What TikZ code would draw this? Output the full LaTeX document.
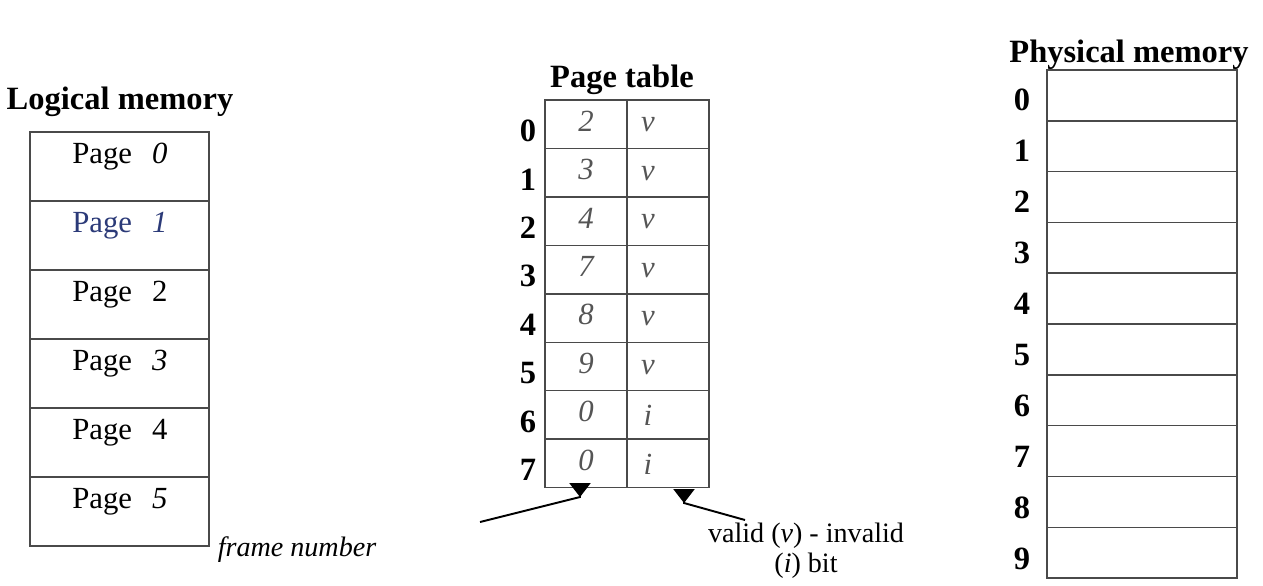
\documentclass[tikz,border=0pt]{standalone}
\usepackage{fontspec}
\setmainfont{Liberation Serif}
\usetikzlibrary{arrows.meta}
\definecolor{grid-gray}{HTML}{4A4A4A}
\definecolor{page-blue}{HTML}{2B3A78}
\definecolor{entry-gray}{HTML}{555555}
\tikzset{
    mem-title/.style = {font=\fontsize{18.5}{20}\selectfont\bfseries, inner sep=0pt},
    index-text/.style = {font=\fontsize{18.5}{20}\selectfont\bfseries, inner sep=0pt},
    lm-cell/.style = {draw=grid-gray, line width=0.8pt, rectangle, minimum width=3.58cm, minimum height=1.38cm, inner sep=0pt},
    pt-cell/.style = {draw=grid-gray, line width=0.8pt, rectangle, minimum width=1.64cm, minimum height=0.97cm, inner sep=0pt},
    pm-cell/.style = {draw=grid-gray, line width=0.8pt, rectangle, minimum width=3.8cm, minimum height=1.016cm, inner sep=0pt},
    cell-text/.style = {font=\fontsize{17.5}{20}\selectfont, inner sep=0pt, anchor=west},
    entry-text/.style = {font=\fontsize{17.5}{20}\selectfont\itshape, text=entry-gray, inner sep=0pt},
    note-text/.style = {font=\fontsize{16}{17}\selectfont, align=center, inner sep=0pt},
    pointer/.style = {line width=1.1pt, -{Triangle[reversed, length=8pt, width=12pt]}},
}

\begin{document}
\begin{tikzpicture}[x=0.02cm, y=-0.02cm]
\useasboundingbox (0,0) rectangle (1263,585);

% logical memory
\node[mem-title] (lm-title) at (120,102) {Logical memory};
\foreach \i/\p/\c in {0/\textit{0}/black, 1/\textit{1}/page-blue, 2/2/black, 3/\textit{3}/black, 4/4/black, 5/\textit{5}/black} {
    \node[lm-cell] (lm-\i) at (119.5, {166.5+69*\i}) {};
    \node[cell-text, text=\c] (lm-txt-\i) at (72, {157+69*\i}) {Page\hspace{0.65em}\p};
}

% page table
\node[mem-title] (pt-title) at (622,80) {Page table};
\foreach \i/\f/\b in {0/2/v, 1/3/v, 2/4/v, 3/7/v, 4/8/v, 5/9/v, 6/0/i, 7/0/i} {
    \node[pt-cell] (pt-\i-f) at (586, {124.2+48.46*\i}) {};
    \node[pt-cell] (pt-\i-b) at (668, {124.2+48.46*\i}) {};
    \node[entry-text] (pt-\i-ft) at (586, {121+48.46*\i}) {\f};
    \node[entry-text] (pt-\i-bt) at (648, {125+48.46*\i}) {\b};
    \node[index-text] (pt-idx-\i) at (528, {131+48.46*\i}) {\i};
}

% frame number / valid bit pointers
\node[note-text, font=\fontsize{16}{17}\selectfont\itshape] (fn-note) at (297,550) {frame number};
\node[note-text] (vb-note) at (806,551) {valid (\textit{v}) - invalid\\(\textit{i}) bit};
\coordinate (fn-tail) at (480,522);
\coordinate (fn-bend) at (580,497);
\coordinate (fn-head) at (580,483);
\coordinate (vb-tail) at (745,520);
\coordinate (vb-bend) at (684,503);
\coordinate (vb-head) at (684,489);
\draw[pointer] (fn-tail) -- (fn-bend) -- (fn-head);
\draw[pointer] (vb-tail) -- (vb-bend) -- (vb-head);

% physical memory
\node[mem-title] (pm-title) at (1129,55) {Physical memory};
\foreach \i in {0,...,9} {
    \node[pm-cell] (pm-\i) at (1142, {95.4+50.8*\i}) {};
    \node[index-text] (pm-idx-\i) at (1022, {100+51*\i}) {\i};
}
\end{tikzpicture}
\end{document}
